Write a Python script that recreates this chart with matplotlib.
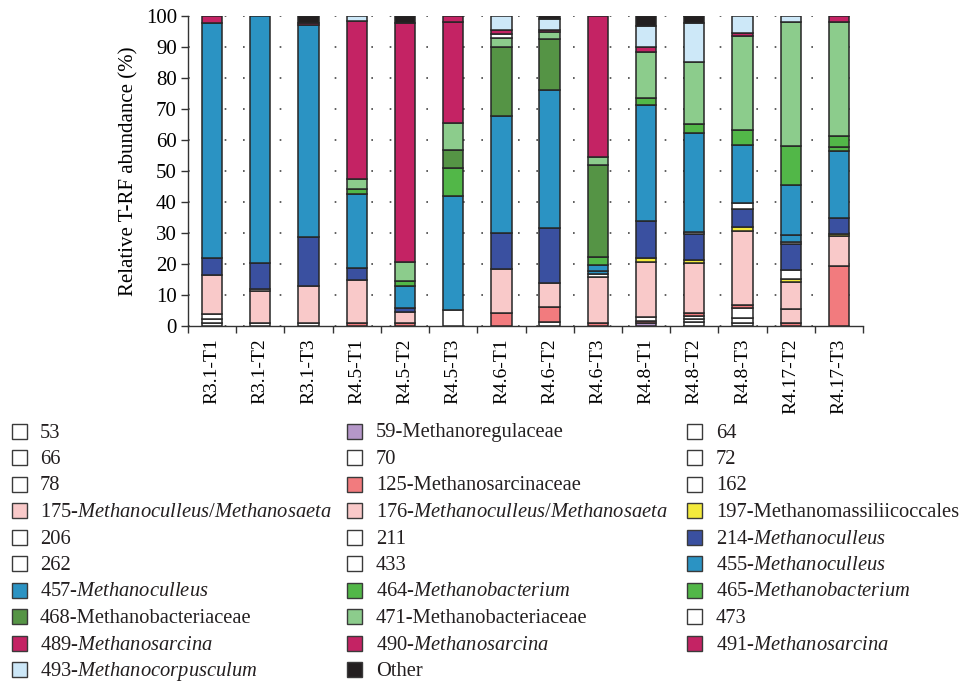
import numpy as np
import matplotlib
matplotlib.use("Agg")
import matplotlib.pyplot as plt
from matplotlib.patches import Rectangle

plt.rcParams["font.family"] = ["Liberation Serif", "DejaVu Serif"]
plt.rcParams["mathtext.fontset"] = "custom"
plt.rcParams["mathtext.rm"] = "Liberation Serif"
plt.rcParams["mathtext.it"] = "Liberation Serif:italic"

samples = ["R3.1-T1", "R3.1-T2", "R3.1-T3", "R4.5-T1", "R4.5-T2", "R4.5-T3",
           "R4.6-T1", "R4.6-T2", "R4.6-T3", "R4.8-T1", "R4.8-T2", "R4.8-T3",
           "R4.17-T2", "R4.17-T3"]

# relative abundance (%) of each T-RF per sample
t53 = [1.0, 1.0, 1.1, 0, 0, 5.2, 0, 1.4, 0, 0, 1.4, 1.0, 0, 0]
t59 = [0, 0, 0, 0, 0, 0, 0, 0, 0, 1.0, 0, 0, 0, 0]
t64 = [0, 0, 0, 0, 0, 0, 0, 0, 0, 0, 1.0, 1.5, 0, 0]
t66 = [1.2, 0, 0, 0, 0, 0, 0, 0, 0, 0, 0.8, 3.3, 0, 0]
t70 = [0, 0, 0, 0, 0, 0, 0, 0, 0, 0, 0, 0, 0, 0]
t72 = [0, 0, 0, 0, 0, 0, 0, 0, 0, 0, 0, 0, 0, 0]
t78 = [1.7, 0, 0, 0, 0, 0, 0, 0, 0, 0, 0, 0, 0, 0]
t125 = [0, 0, 0, 0.9, 0.9, 0, 4.1, 4.8, 1.1, 0.6, 0.9, 0.9, 1.1, 19.5]
t162 = [0, 0, 0, 0, 0, 0, 0, 0, 0, 1.2, 0, 0, 0, 0]
t175 = [12.6, 10.4, 11.9, 13.9, 3.7, 0, 14.2, 7.8, 14.6, 17.9, 16.3, 24.0, 4.4, 9.5]
t176 = [0, 0, 0, 0, 0, 0, 0, 0, 0, 0, 0, 0, 8.8, 0]
t197 = [0, 0, 0, 0, 0, 0, 0, 0, 0, 1.1, 0.9, 1.3, 0.9, 0.7]
t206 = [0, 0.6, 0, 0, 0, 0, 0, 0, 0, 0, 0, 0, 2.9, 0]
t211 = [0, 0, 0, 0, 0, 0, 0, 0, 1.1, 0, 0, 0, 0, 0]
t214 = [5.5, 8.2, 15.7, 4.0, 1.3, 0, 11.6, 17.5, 0, 12.1, 8.3, 5.9, 8.4, 5.0]
t262 = [0, 0, 0, 0, 0, 0, 0, 0, 0, 0, 0.8, 1.9, 0.7, 0]
t433 = [0, 0, 0, 0, 0, 0, 0, 0, 0, 0, 0, 0, 0, 0]
t455 = [0, 0, 0, 0, 0, 0, 0, 0, 1.1, 0, 0, 0, 2.2, 0]
t457 = [75.6, 79.8, 68.3, 23.7, 7.0, 36.8, 37.8, 44.6, 1.8, 37.3, 32.0, 18.6, 16.1, 21.8]
t464 = [0, 0, 0, 1.7, 1.6, 8.9, 0, 0, 2.7, 2.2, 2.8, 4.8, 0, 1.1]
t465 = [0, 0, 0, 0, 0, 0, 0, 0, 0, 0, 0, 0, 12.6, 3.7]
t468 = [0, 0, 0, 0, 0, 5.9, 22.4, 16.4, 29.5, 0, 0, 0, 0, 0]
t471 = [0, 0, 0, 3.1, 6.2, 8.8, 2.7, 2.2, 2.5, 15.1, 19.9, 30.3, 40.1, 36.8]
t473 = [0, 0, 0, 0, 0, 0, 1.3, 0, 0, 0, 0, 0, 0, 0]
t489 = [2.4, 0, 0, 51.1, 77.1, 32.6, 1.4, 0.8, 45.6, 1.4, 0, 0.9, 0, 0]
t490 = [0, 0, 0.8, 0, 0, 1.8, 0, 0, 0, 0, 0, 0, 0, 0]
t491 = [0, 0, 0, 0, 0, 0, 0, 0, 0, 0, 0, 0, 0, 1.9]
t493 = [0, 0, 0, 1.6, 0, 0, 4.5, 3.4, 0, 6.9, 12.8, 5.6, 1.8, 0]
other = [0, 0, 2.2, 0, 2.2, 0, 0, 1.1, 0, 3.2, 2.1, 0, 0, 0]

WHITE = "#ffffff"
PINK = "#f9c9c9"
CYAN = "#2b93c3"
GREEN = "#52b748"
MAGENTA = "#c42364"

# stacking order bottom -> top, same as legend reading order
series = [
    ("53", WHITE, t53),
    ("59-Methanoregulaceae", "#b597c9", t59),
    ("64", WHITE, t64),
    ("66", WHITE, t66),
    ("70", WHITE, t70),
    ("72", WHITE, t72),
    ("78", WHITE, t78),
    ("125-Methanosarcinaceae", "#f27b7e", t125),
    ("162", WHITE, t162),
    (r"175-$\mathit{Methanoculleus/Methanosaeta}$", PINK, t175),
    (r"176-$\mathit{Methanoculleus/Methanosaeta}$", PINK, t176),
    ("197-Methanomassiliicoccales", "#f3ea3c", t197),
    ("206", WHITE, t206),
    ("211", WHITE, t211),
    (r"214-$\mathit{Methanoculleus}$", "#3a50a0", t214),
    ("262", WHITE, t262),
    ("433", WHITE, t433),
    (r"455-$\mathit{Methanoculleus}$", CYAN, t455),
    (r"457-$\mathit{Methanoculleus}$", CYAN, t457),
    (r"464-$\mathit{Methanobacterium}$", GREEN, t464),
    (r"465-$\mathit{Methanobacterium}$", GREEN, t465),
    ("468-Methanobacteriaceae", "#559445", t468),
    ("471-Methanobacteriaceae", "#8ccc8c", t471),
    ("473", WHITE, t473),
    (r"489-$\mathit{Methanosarcina}$", MAGENTA, t489),
    (r"490-$\mathit{Methanosarcina}$", MAGENTA, t490),
    (r"491-$\mathit{Methanosarcina}$", MAGENTA, t491),
    (r"493-$\mathit{Methanocorpusculum}$", "#cde8f8", t493),
    ("Other", "#231f20", other),
]

W, H = 968, 686
fig = plt.figure(figsize=(W / 100, H / 100), dpi=100)
ax = fig.add_axes([188 / W, 1 - 326 / H, 675 / W, 310 / H])

EDGE = "#262626"
x = np.arange(len(samples))
bottom = np.zeros(len(samples))
for label, color, vals in series:
    vals = np.asarray(vals, dtype=float)
    keep = vals > 0
    if keep.any():
        ax.bar(x[keep], vals[keep], width=0.42, bottom=bottom[keep],
               color=color, edgecolor=EDGE, linewidth=1.1, zorder=3)
    bottom += vals

ax.set_xlim(-0.5, len(samples) - 0.5)
ax.set_ylim(0, 100)
ax.set_yticks(np.arange(0, 101, 10))
ax.set_xticks(x)
ax.set_xticklabels(samples, rotation=90, fontsize=14)
ax.set_xticks(np.arange(-0.5, len(samples)), minor=True)
ax.tick_params(axis="x", which="major", length=0, pad=9)
ax.tick_params(axis="x", which="minor", length=5, width=1, color="#333333")
ax.tick_params(axis="y", length=5, width=1, color="#333333", labelsize=15, pad=3)
ax.set_ylabel("Relative T-RF abundance (%)", fontsize=15, labelpad=5)

for side in ("top", "right"):
    ax.spines[side].set_visible(False)
for side in ("left", "bottom"):
    ax.spines[side].set_color("#333333")
    ax.spines[side].set_linewidth(1.0)

ax.yaxis.grid(True, linestyle=(0, (1, 10)), color="#444444", linewidth=1.2)
ax.set_axisbelow(True)

# legend drawn by hand: 3 columns, read row by row
col_box = [12, 347, 687]
col_txt = [40, 376, 716]
row0, row_step = 431, 26.5
box = 15
for i, (label, color, _) in enumerate(series):
    r, c = divmod(i, 3)
    yc = row0 + r * row_step
    fig.add_artist(Rectangle((col_box[c] / W, 1 - (yc + box / 2) / H), box / W, box / H,
                             transform=fig.transFigure, facecolor=color,
                             edgecolor="#3a3a3a", linewidth=1.0))
    fig.text(col_txt[c] / W, 1 - (yc + 6.5) / H, label, fontsize=14.8,
             ha="left", va="baseline", color="#231f20")

fig.savefig("out.png", dpi=100)
